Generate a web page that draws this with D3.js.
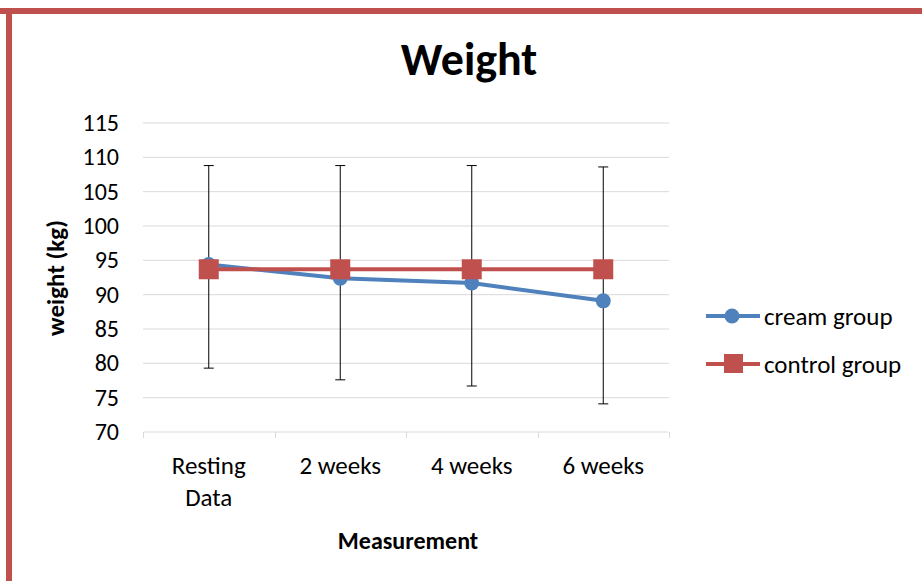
<!DOCTYPE html>
<html lang="en">
<head>
    <meta charset="UTF-8">
    <title>Weight</title>
    <script src="https://d3js.org/d3.v7.min.js"></script>
    <style>
        body { margin: 0; background: #fff; }
        text { font-family: Carlito, Lato, "Open Sans", sans-serif; fill: #000; }
    </style>
</head>
<body>
<div id="chart"></div>

<script>
    // values
    var categories = ["Resting Data", "2 weeks", "4 weeks", "6 weeks"];
    var creamGroup = [94.4, 92.4, 91.7, 89.1];
    var controlGroup = [93.7, 93.7, 93.7, 93.7];
    var errHigh = [108.8, 108.8, 108.8, 108.6];
    var errLow = [79.3, 77.6, 76.7, 74.1];
    var yTicks = [70, 75, 80, 85, 90, 95, 100, 105, 110, 115];
    var seriesNames = ["cream group", "control group"];

    var blue = "#4f81bd", red = "#c0504d";
    var W = 922, H = 581;
    var margin = {top: 123, right: 253, bottom: 149, left: 143},
        width = W - margin.left - margin.right,
        height = H - margin.top - margin.bottom;

    var svg = d3.select("#chart")
        .append("svg")
            .attr("width", W)
            .attr("height", H);

    // red frame on top and left
    svg.append("rect").attr("x", 0).attr("y", 8).attr("width", W).attr("height", 6).attr("fill", red);
    svg.append("rect").attr("x", 6).attr("y", 8).attr("width", 6).attr("height", H).attr("fill", red);

    var g = svg.append("g")
        .attr("transform", "translate(" + margin.left + "," + margin.top + ")");

    var x = d3.scaleBand()
        .domain(categories)
        .range([0, width]);
    var y = d3.scaleLinear()
        .domain([70, 115])
        .range([height, 0]);
    function cx(d, i) { return x(categories[i]) + x.bandwidth() / 2; }

    // gridlines
    g.selectAll("line.grid")
        .data(yTicks.slice(1))
        .enter()
        .append("line")
            .attr("x1", 0).attr("x2", width)
            .attr("y1", function (d) { return y(d); })
            .attr("y2", function (d) { return y(d); })
            .attr("stroke", "#d9d9d9")
            .attr("stroke-width", 1);

    // y tick labels
    g.selectAll("text.ytick")
        .data(yTicks)
        .enter()
        .append("text")
            .attr("x", -24)
            .attr("y", function (d) { return y(d); })
            .attr("dy", "0.34em")
            .attr("text-anchor", "end")
            .style("font-size", "24px")
            .text(function (d) { return d; });

    // x axis line and ticks
    var xAxis = g.append("g")
        .attr("transform", "translate(0," + height + ")")
        .call(d3.axisBottom(x).tickSize(0).tickFormat(""));
    xAxis.select(".domain").attr("stroke", "#d9d9d9").attr("d", "M0.5,0H" + (width - 0.5));
    xAxis.selectAll("line.sep")
        .data(d3.range(categories.length + 1))
        .enter()
        .append("line")
            .attr("x1", function (i) { return Math.round(i * x.bandwidth()) + 0.5; })
            .attr("x2", function (i) { return Math.round(i * x.bandwidth()) + 0.5; })
            .attr("y1", 0).attr("y2", 6)
            .attr("stroke", "#d9d9d9");

    // category labels, wrapped
    var labels = g.selectAll("text.xlab")
        .data(categories)
        .enter()
        .append("text")
            .attr("text-anchor", "middle")
            .attr("transform", function (d) { return "translate(" + (x(d) + x.bandwidth() / 2) + "," + (474 - margin.top) + ")"; })
            .style("font-size", "25px");
    labels.each(function (d) {
        var words = d === "Resting Data" ? ["Resting", "Data"] : [d];
        var t = d3.select(this);
        words.forEach(function (w, k) {
            t.append("tspan").attr("x", 0).attr("dy", k === 0 ? 0 : 32).text(w);
        });
    });

    // error bars
    var eb = g.selectAll("g.err")
        .data(categories)
        .enter()
        .append("g")
            .attr("stroke", "#000")
            .attr("stroke-width", 1);
    eb.append("line")
        .attr("x1", cx).attr("x2", cx)
        .attr("y1", function (d, i) { return y(errHigh[i]); })
        .attr("y2", function (d, i) { return y(errLow[i]); });
    eb.append("line")
        .attr("x1", function (d, i) { return cx(d, i) - 5; })
        .attr("x2", function (d, i) { return cx(d, i) + 5; })
        .attr("y1", function (d, i) { return y(errHigh[i]); })
        .attr("y2", function (d, i) { return y(errHigh[i]); });
    eb.append("line")
        .attr("x1", function (d, i) { return cx(d, i) - 5; })
        .attr("x2", function (d, i) { return cx(d, i) + 5; })
        .attr("y1", function (d, i) { return y(errLow[i]); })
        .attr("y2", function (d, i) { return y(errLow[i]); });

    var line = d3.line()
        .x(cx)
        .y(function (d) { return y(d); });

    // cream group
    g.append("path")
        .datum(creamGroup)
        .attr("d", line)
        .attr("fill", "none")
        .attr("stroke", blue)
        .attr("stroke-width", 4);
    g.selectAll("circle.cream")
        .data(creamGroup)
        .enter()
        .append("circle")
            .attr("cx", cx)
            .attr("cy", function (d) { return y(d); })
            .attr("r", 7.5)
            .attr("fill", blue);

    // control group
    g.append("path")
        .datum(controlGroup)
        .attr("d", line)
        .attr("fill", "none")
        .attr("stroke", red)
        .attr("stroke-width", 4);
    g.selectAll("rect.control")
        .data(controlGroup)
        .enter()
        .append("rect")
            .attr("x", function (d, i) { return cx(d, i) - 10; })
            .attr("y", function (d) { return y(d) - 10; })
            .attr("width", 20)
            .attr("height", 20)
            .attr("fill", red);

    // titles
    svg.append("text")
        .attr("x", 469).attr("y", 75)
        .attr("text-anchor", "middle")
        .style("font-size", "46px")
        .style("font-weight", "bold")
        .text("Weight");
    svg.append("text")
        .attr("x", 408).attr("y", 549)
        .attr("text-anchor", "middle")
        .style("font-size", "24px")
        .style("font-weight", "bold")
        .text("Measurement");
    svg.append("text")
        .attr("transform", "translate(64,278) rotate(-90)")
        .attr("text-anchor", "middle")
        .style("font-size", "25px")
        .style("font-weight", "bold")
        .text("weight (kg)");

    // legend
    var legend = svg.selectAll("g.legend")
        .data(seriesNames)
        .enter()
        .append("g")
            .attr("transform", function (d, i) { return "translate(706," + (316 + i * 48) + ")"; });
    legend.append("line")
        .attr("x1", 0).attr("x2", 54)
        .attr("stroke", function (d, i) { return i === 0 ? blue : red; })
        .attr("stroke-width", 4);
    legend.filter(function (d, i) { return i === 0; })
        .append("circle")
            .attr("cx", 26).attr("r", 7.5).attr("fill", blue);
    legend.filter(function (d, i) { return i === 1; })
        .append("rect")
            .attr("x", 18).attr("y", -10).attr("width", 19).attr("height", 19).attr("fill", red);
    legend.append("text")
        .attr("x", 58)
        .attr("dy", "0.34em")
        .style("font-size", "25px")
        .text(function (d) { return d; });
</script>
</body>
</html>
